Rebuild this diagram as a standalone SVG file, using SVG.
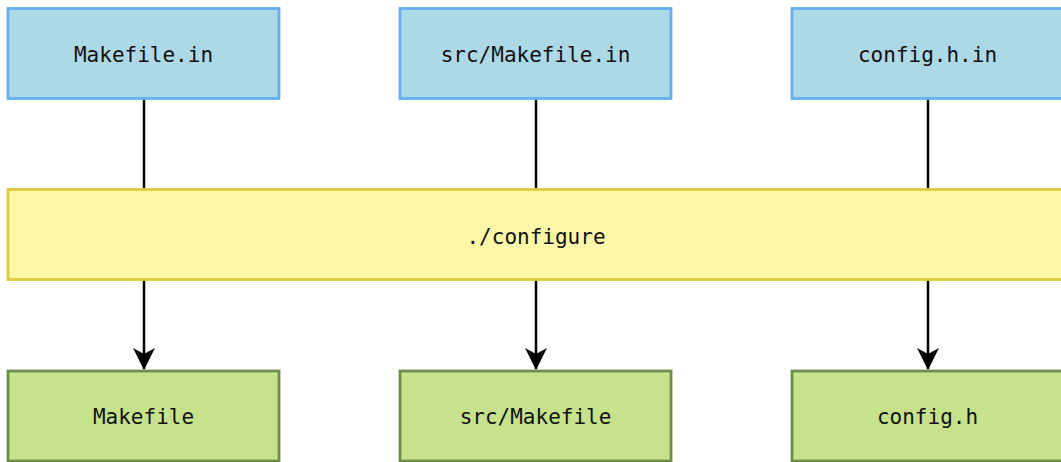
<svg xmlns="http://www.w3.org/2000/svg" width="1061" height="462" viewBox="0 0 1061 462">
  <defs>
    <style>
      .lbl { font-family: "DejaVu Sans Mono", "Liberation Mono", monospace; font-size: 21px; fill: #111; text-anchor: middle; dominant-baseline: central; }
      .src { fill: #add8e6; stroke: #65aef0; stroke-width: 2.8; }
      .tool { fill: #fff7a8; stroke: #dccb3c; stroke-width: 2.8; }
      .out { fill: #c6e38b; stroke: #6e8d4c; stroke-width: 2.8; }
      .edge { stroke: #000; stroke-width: 2.5; fill: none; }
    </style>
    <marker id="arrow" viewBox="0 0 22 22" refX="21" refY="11" markerWidth="22" markerHeight="22" markerUnits="userSpaceOnUse" orient="auto">
      <path d="M0,0 L22,11 L0,22 L6,11 Z" fill="#000"/>
    </marker>
  </defs>

  <!-- connectors -->
  <g id="connectors">
    <line class="edge" x1="144" y1="99" x2="144" y2="189"/>
    <line class="edge" x1="536" y1="99" x2="536" y2="189"/>
    <line class="edge" x1="928" y1="99" x2="928" y2="189"/>
    <line class="edge" x1="144" y1="280" x2="144" y2="369" marker-end="url(#arrow)"/>
    <line class="edge" x1="536" y1="280" x2="536" y2="369" marker-end="url(#arrow)"/>
    <line class="edge" x1="928" y1="280" x2="928" y2="369" marker-end="url(#arrow)"/>
  </g>

  <!-- input templates -->
  <g id="makefile-in">
    <rect class="src" x="8" y="8.5" width="271" height="90"/>
    <text class="lbl" x="143.5" y="55">Makefile.in</text>
  </g>
  <g id="src-makefile-in">
    <rect class="src" x="400" y="8.5" width="271" height="90"/>
    <text class="lbl" x="535.5" y="55">src/Makefile.in</text>
  </g>
  <g id="config-h-in">
    <rect class="src" x="792" y="8.5" width="271" height="90"/>
    <text class="lbl" x="927.5" y="55">config.h.in</text>
  </g>

  <!-- configure step -->
  <g id="configure">
    <rect class="tool" x="8" y="189.5" width="1060" height="90"/>
    <text class="lbl" x="536" y="237">./configure</text>
  </g>

  <!-- generated files -->
  <g id="makefile">
    <rect class="out" x="8" y="371" width="271" height="90"/>
    <text class="lbl" x="143.5" y="417">Makefile</text>
  </g>
  <g id="src-makefile">
    <rect class="out" x="400" y="371" width="271" height="90"/>
    <text class="lbl" x="535.5" y="417">src/Makefile</text>
  </g>
  <g id="config-h">
    <rect class="out" x="792" y="371" width="271" height="90"/>
    <text class="lbl" x="927.5" y="417">config.h</text>
  </g>
</svg>
